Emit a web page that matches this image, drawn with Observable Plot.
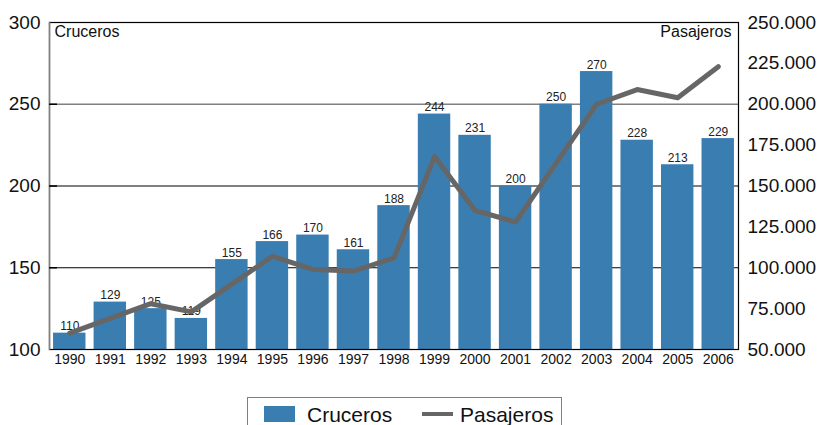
<!DOCTYPE html>
<html>
<head>
<meta charset="utf-8">
<script src="https://cdn.jsdelivr.net/npm/d3@7"></script>
<script src="https://cdn.jsdelivr.net/npm/@observablehq/plot@0.6"></script>
<style>
  body { margin: 0; background: #fff; font-family: "Liberation Sans", Arial, sans-serif; }
  #legend { margin-left: 247px; margin-top: 22px; width: 313px; height: 40px; border: 1px solid #808080; position: relative; }
  #legend .sw { position: absolute; }
  #legend .lb { position: absolute; font-size: 21px; color: #111; line-height: 1; }
</style>
</head>
<body>
<div id="chart"></div>
<div id="legend">
  <div class="sw" style="left:16px; top:8px; width:31px; height:16px; background:#3a7eb1;"></div>
  <div class="lb" style="left:59px; top:6px;">Cruceros</div>
  <div class="sw" style="left:174px; top:14px; width:31px; height:4px; background:#666;"></div>
  <div class="lb" style="left:212px; top:6px;">Pasajeros</div>
</div>
<script>
const years = ["1990","1991","1992","1993","1994","1995","1996","1997","1998","1999","2000","2001","2002","2003","2004","2005","2006"];
const cruceros = [110,129,125,119,155,166,170,161,188,244,231,200,250,270,228,213,229];
const pasajeros = [60000,69000,78000,73000,90000,107000,99000,98000,106000,168000,135000,128000,164000,200000,209000,204000,223000];
const leftTicks = [100,150,200,250,300];
const rightTicks = [50000,75000,100000,125000,150000,175000,200000,225000,250000];
const gridBlack = [150,200];
const gridGray = [250];

const toLeft = p => 100 + (p - 50000) / 1000;
const fmt = n => d3.format(",")(n).replace(/,/g, ".");

const data = years.map((y, i) => ({year: y, c: cruceros[i], p: pasajeros[i], py: toLeft(pasajeros[i])}));

const chart = Plot.plot({
  width: 819,
  height: 375,
  marginLeft: 49,
  marginRight: 81,
  marginTop: 22,
  marginBottom: 26,
  style: {fontFamily: "'Liberation Sans', Arial, sans-serif", background: "#fff", color: "#111"},
  x: {domain: years, paddingInner: 0.2, paddingOuter: 0.1, round: false, label: null},
  y: {domain: [100, 300], label: null},
  marks: [
    Plot.ruleY(gridBlack, {stroke: "#000", strokeWidth: 1}),
    Plot.ruleY(gridGray, {stroke: "#808080", strokeWidth: 1.5}),
    Plot.barY(data, {x: "year", y1: 100, y2: "c", fill: "#3a7eb1"}),
    Plot.text(data, {x: "year", y: "c", text: d => String(d.c), lineAnchor: "bottom", dy: -3, fontSize: 12, fill: "#222"}),
    Plot.line(data, {x: "year", y: "py", stroke: "#666", strokeWidth: 5}),
    Plot.frame({stroke: "#000", strokeWidth: 1.2}),
    Plot.frame({anchor: "left", stroke: "#808080", strokeWidth: 1.5}),
    Plot.ruleY(leftTicks.slice(1, 4), {insetRight: 689 - 8, stroke: "#000", strokeWidth: 1.5}),
    Plot.axisY(leftTicks, {anchor: "left", tickSize: 0, tickPadding: 9, fontSize: 19, tickFormat: d => String(d)}),
    Plot.axisY(rightTicks.map(toLeft), {anchor: "right", tickSize: 0, tickPadding: 9, fontSize: 19, tickFormat: d => fmt(Math.round((d - 100) * 1000 + 50000))}),
    Plot.axisX({tickSize: 0, tickPadding: 5, fontSize: 14}),
    Plot.text(["Cruceros"], {text: d => d, frameAnchor: "top-left", textAnchor: "start", lineAnchor: "top", dx: 5, dy: 3, fontSize: 16, fill: "#111"}),
    Plot.text(["Pasajeros"], {text: d => d, frameAnchor: "top-right", textAnchor: "end", lineAnchor: "top", dx: -7, dy: 3, fontSize: 16, fill: "#111"})
  ]
});
document.getElementById("chart").appendChild(chart);
</script>
</body>
</html>
